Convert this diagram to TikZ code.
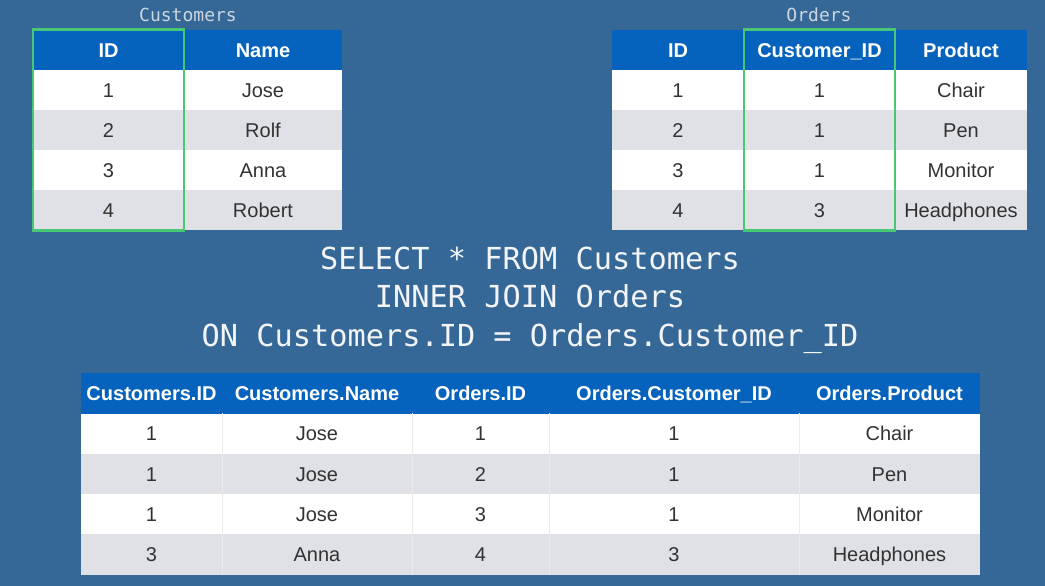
\documentclass[tikz,border=0pt]{standalone}
\usepackage{fontspec}
\setsansfont{Liberation Sans}
\setmonofont{DejaVu Sans Mono}
\definecolor{slide}{RGB}{53,104,150}
\definecolor{headblue}{RGB}{6,99,189}
\definecolor{rowgray}{RGB}{224,225,230}
\definecolor{keygreen}{RGB}{72,199,116}
\definecolor{celltext}{RGB}{50,50,50}
\definecolor{titlegray}{RGB}{205,214,224}
\definecolor{querywhite}{RGB}{242,244,247}
\begin{document}
\begin{tikzpicture}[x=1pt, y=-1pt,
    cell/.style={inner sep=0pt, minimum height=40.3pt, text height=14.3pt, text depth=0pt,
                 font=\sffamily\fontsize{20}{22}\selectfont, text=celltext},
    head/.style={cell, fill=headblue, text=white, font=\sffamily\bfseries\fontsize{20}{22}\selectfont},
    oddrow/.style={cell, fill=white},
    evenrow/.style={cell, fill=rowgray},
    keycol/.style={draw=keygreen, line width=2.5pt},
    colsep/.style={draw=black!8, line width=0.8pt},
    tabletitle/.style={anchor=base, text=titlegray, font=\ttfamily\fontsize{18}{20}\selectfont},
    query/.style={anchor=base, text=querywhite, font=\ttfamily\fontsize{30.3}{36}\selectfont}]

    \fill[slide] (0,0) rectangle (1045,586);
    \useasboundingbox (0,0) rectangle (1045,586);

% Customers
    \node[tabletitle] (c-title) at (188,22) {Customers};
    \node[head, minimum width=151pt] (c-h1) at (108.5,50) {ID};
    \node[head, minimum width=158pt] (c-h2) at (263,50) {Name};
    \foreach \i/\name/\row in {1/Jose/oddrow, 2/Rolf/evenrow, 3/Anna/oddrow, 4/Robert/evenrow} {
      \node[\row, minimum width=151pt] (c-\i-1) at (108.5,{50+40*\i}) {\i};
      \node[\row, minimum width=158pt] (c-\i-2) at (263,{50+40*\i}) {\name};
    }
    \draw[keycol] (c-h1.north west) rectangle (c-4-1.south east);

% Orders
    \node[tabletitle] (o-title) at (819,22) {Orders};
    \node[head, minimum width=132pt] (o-h1) at (678,50) {ID};
    \node[head, minimum width=151pt] (o-h2) at (819.5,50) {Customer\_ID};
    \node[head, minimum width=132pt] (o-h3) at (961,50) {Product};
    \foreach \i/\cid/\prod/\row in {1/1/Chair/oddrow, 2/1/Pen/evenrow, 3/1/Monitor/oddrow, 4/3/Headphones/evenrow} {
      \node[\row, minimum width=132pt] (o-\i-1) at (678,{50+40*\i}) {\i};
      \node[\row, minimum width=151pt] (o-\i-2) at (819.5,{50+40*\i}) {\cid};
      \node[\row, minimum width=132pt] (o-\i-3) at (961,{50+40*\i}) {\prod};
    }
    \draw[keycol] (o-h2.north west) rectangle (o-4-2.south east);

% the query
    \node[query] (q1) at (530,269) {SELECT * FROM Customers};
    \node[query] (q2) at (530,307.5) {INNER JOIN Orders};
    \node[query] (q3) at (530,346) {ON Customers.ID = Orders.Customer\_ID};

% result
    \node[head, minimum width=141pt] (r-h1) at (151.5,393.5) {Customers.ID};
    \node[head, minimum width=190pt] (r-h2) at (317,393.5) {Customers.Name};
    \node[head, minimum width=137pt] (r-h3) at (480.5,393.5) {Orders.ID};
    \node[head, minimum width=250pt] (r-h4) at (674,393.5) {Orders.Customer\_ID};
    \node[head, minimum width=181pt] (r-h5) at (889.5,393.5) {Orders.Product};
    \foreach \i/\cid/\name/\oid/\prod/\row in {1/1/Jose/1/Chair/oddrow, 2/1/Jose/2/Pen/evenrow,
        3/1/Jose/3/Monitor/oddrow, 4/3/Anna/4/Headphones/evenrow} {
      \node[\row, minimum width=141pt] (r-\i-1) at (151.5,{393.5+40.25*\i}) {\cid};
      \node[\row, minimum width=190pt] (r-\i-2) at (317,{393.5+40.25*\i}) {\name};
      \node[\row, minimum width=137pt] (r-\i-3) at (480.5,{393.5+40.25*\i}) {\oid};
      \node[\row, minimum width=250pt] (r-\i-4) at (674,{393.5+40.25*\i}) {\cid};
      \node[\row, minimum width=181pt] (r-\i-5) at (889.5,{393.5+40.25*\i}) {\prod};
    }
    \foreach \j in {1,...,4}
      \draw[colsep] (r-1-\j.north east) -- (r-4-\j.south east);

\end{tikzpicture}
\end{document}
